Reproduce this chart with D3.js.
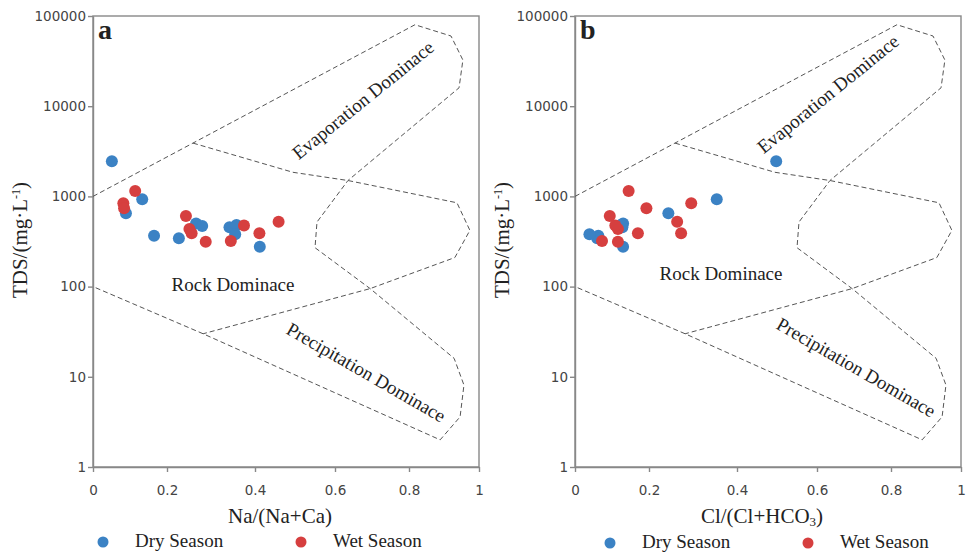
<!DOCTYPE html>
<html>
<head>
<meta charset="utf-8">
<script src="https://cdn.jsdelivr.net/npm/d3@7"></script>
<style>
  body { margin: 0; background: #fff; }
  svg { display: block; }
  .tick text { font-family: "DejaVu Sans", sans-serif; font-size: 13.5px; fill: #444; }
  .tick line, .domain { stroke: #888; stroke-width: 1.4; }
  .serif { font-family: "Liberation Serif", "Times New Roman", serif; fill: #222; }
</style>
</head>
<body>
<svg id="chart" width="966" height="552"></svg>
<script>
// axis ticks
const xTickValues = [0, 0.2, 0.4, 0.6, 0.8, 1];
const yTickValues = [1, 10, 100, 1000, 10000, 100000];

// samples (TDS in mg/L)
const dryTDS     = [2450, 930, 650, 500, 470, 367, 343, 455, 482, 380, 277];
const dryNaRatio = [0.051, 0.133, 0.089, 0.266, 0.28, 0.165, 0.227, 0.342, 0.358, 0.355, 0.412];
const dryClRatio = [0.498, 0.354, 0.244, 0.13, 0.12, 0.063, 0.06, 0.128, 0.125, 0.039, 0.13];

const wetTDS     = [1150, 840, 740, 605, 435, 390, 315, 320, 475, 390, 525];
const wetNaRatio = [0.114, 0.082, 0.084, 0.243, 0.251, 0.256, 0.288, 0.345, 0.375, 0.411, 0.459];
const wetClRatio = [0.145, 0.296, 0.193, 0.094, 0.116, 0.17, 0.116, 0.073, 0.109, 0.273, 0.264];

// Gibbs boundaries [ratio, TDS]
const gibbsOuter = [[0, 1000], [0.259, 3900], [0.817, 80000], [0.92, 60000], [0.954, 32500],
    [0.943, 16000], [0.635, 1500], [0.555, 520], [0.55, 270], [0.695, 95], [0.929, 16],
    [0.957, 8.1], [0.946, 3.6], [0.889, 2], [0.282, 30], [0, 100]];
const gibbsInner = [[0.259, 3900], [0.495, 1850], [0.635, 1500], [0.937, 850], [0.974, 420],
    [0.931, 210], [0.695, 95], [0.282, 30]];

const seriesNames = ["Dry Season", "Wet Season"];
const colors = ["#3b82c4", "#d63f3f"];

// the scanned figure has unevenly spaced x ticks, so the scale is piecewise
const xTickOffsets = [0, 74, 162, 242, 316, 386];

const svg = d3.select("#chart");

function drawPanel(cfg) {
    const g = svg.append("g");
    const top = 16, bottom = 467;

    const x = d3.scaleLinear()
        .domain(xTickValues)
        .range(xTickOffsets.map(o => cfg.left + o));
    const y = d3.scaleLog().domain([1, 100000]).range([bottom, top]);
    const right = x(1);

    // frame
    g.append("rect")
        .attr("x", cfg.left).attr("y", top)
        .attr("width", right - cfg.left).attr("height", bottom - top)
        .attr("fill", "none").attr("stroke", "#888").attr("stroke-width", 1.4);

    g.append("g")
        .attr("transform", `translate(0,${bottom})`)
        .call(d3.axisBottom(x).tickValues(xTickValues).tickFormat(d => d)
            .tickSize(5).tickSizeOuter(0).tickPadding(13));

    g.append("g")
        .attr("transform", `translate(${cfg.left},0)`)
        .call(d3.axisLeft(y).tickValues(yTickValues).tickFormat(d3.format("d"))
            .tickSize(5).tickSizeOuter(0).tickPadding(2));

    // boundaries
    const line = d3.line().x(d => x(d[0])).y(d => y(d[1]));
    [gibbsOuter, gibbsInner].forEach(pts => {
        g.append("path")
            .attr("d", line(pts))
            .attr("fill", "none")
            .attr("stroke", "#555")
            .attr("stroke-width", 1)
            .attr("stroke-dasharray", "5,3");
    });

    // region labels
    const lab = (txt, px, py, rot) => g.append("text")
        .attr("class", "serif")
        .attr("text-anchor", "middle")
        .attr("font-size", 19)
        .attr("transform", `translate(${px},${py}) rotate(${rot})`)
        .text(txt);
    lab("Evaporation Dominace", cfg.evap[0], cfg.evap[1], -39);
    lab("Rock Dominace", cfg.rock[0], cfg.rock[1], 0);
    lab("Precipitation Dominace", cfg.prec[0], cfg.prec[1], 30);

    // points: dry first, wet on top
    const dry = dryTDS.map((v, i) => [cfg.dryX[i], v]);
    const wet = wetTDS.map((v, i) => [cfg.wetX[i], v]);
    [dry, wet].forEach((pts, k) => {
        g.append("g").selectAll("circle")
            .data(pts)
            .join("circle")
            .attr("cx", d => x(d[0]))
            .attr("cy", d => y(d[1]))
            .attr("r", 6)
            .attr("fill", colors[k]);
    });

    // panel letter
    g.append("text")
        .attr("class", "serif")
        .attr("x", cfg.left + 5).attr("y", 39)
        .attr("font-size", 28).attr("font-weight", "bold")
        .attr("fill", "#000")
        .text(cfg.letter);

    // y title
    const yt = g.append("text")
        .attr("class", "serif")
        .attr("text-anchor", "middle")
        .attr("font-size", 21)
        .attr("transform", `translate(${cfg.left - 66},240) rotate(-90)`);
    yt.append("tspan").text("TDS/(mg·L");
    yt.append("tspan").attr("font-size", 12).attr("baseline-shift", "60%").text("-1");
    yt.append("tspan").text(")");

    // x title
    const xt = g.append("text")
        .attr("class", "serif")
        .attr("text-anchor", "middle")
        .attr("font-size", 21)
        .attr("x", (cfg.left + right) / 2 - 6)
        .attr("y", 523);
    cfg.xTitle.forEach(([t, sub]) => {
        const s = xt.append("tspan").text(t);
        if (sub) s.attr("font-size", 13).attr("baseline-shift", "-25%");
    });

    // legend
    seriesNames.forEach((name, k) => {
        const lx = cfg.legend[k];
        g.append("circle")
            .attr("cx", lx).attr("cy", cfg.legendY - 5)
            .attr("r", 5.5).attr("fill", colors[k]);
        g.append("text")
            .attr("class", "serif")
            .attr("x", lx + 32).attr("y", cfg.legendY)
            .attr("font-size", 19)
            .text(name);
    });
}

drawPanel({
    letter: "a", left: 93,
    dryX: dryNaRatio, wetX: wetNaRatio,
    xTitle: [["Na/(Na+Ca)", false]],
    evap: [367, 105], rock: [233, 291], prec: [363, 378],
    legend: [103, 301], legendY: 547
});

drawPanel({
    letter: "b", left: 575,
    dryX: dryClRatio, wetX: wetClRatio,
    xTitle: [["Cl/(Cl+HCO", false], ["3", true], [")", false]],
    evap: [832, 99], rock: [721, 280], prec: [853, 373],
    legend: [610, 808], legendY: 548
});
</script>
</body>
</html>
